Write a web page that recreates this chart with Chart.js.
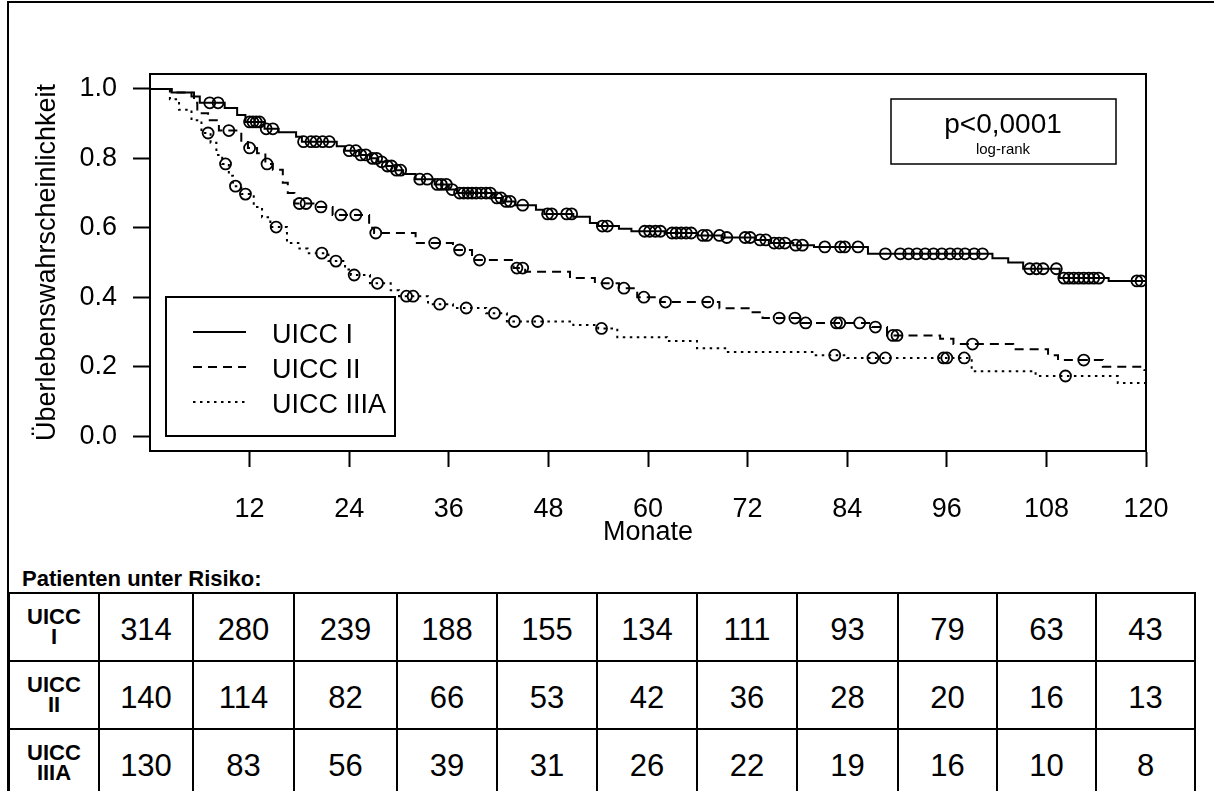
<!DOCTYPE html>
<html>
<head>
<meta charset="utf-8">
<script src="https://cdn.jsdelivr.net/npm/chart.js@4.4.1/dist/chart.umd.min.js"></script>
<style>
  body { margin: 0; background: #fff; font-family: "Liberation Sans", Arial, sans-serif; }
  #frame { position: absolute; left: 7px; top: 1px; width: 1210px; height: 795px; border-left: 2px solid #000; border-top: 2px solid #000; }
  #wrap { position: absolute; left: 0; top: 0; width: 1214px; height: 560px; }
  #caption { position: absolute; left: 22px; top: 566px; font-weight: bold; font-size: 22px; }
  table { position: absolute; left: 8px; top: 592px; border-collapse: collapse; table-layout: fixed; width: 1186px; }
  td { border: 2px solid #000; height: 61px; text-align: center; font-size: 31px; padding: 5px 0 0 0; }
  td.lab { font-weight: bold; font-size: 22px; line-height: 20px; padding: 0; }
</style>
</head>
<body>
<div id="frame"></div>
<div id="wrap"><canvas id="km"></canvas></div>
<div id="caption">Patienten unter Risiko:</div>
<table id="risk"></table>
<script>
// Kaplan-Meier: step times (months) and survival after each step
const groups = ['UICC I', 'UICC II', 'UICC IIIA'];
const groupLabels = ['UICC<br>I', 'UICC<br>II', 'UICC<br>IIIA'];

const timeI = [0, 2.6, 5.0, 6.0, 9.0, 10.5, 11.5, 13.8, 15.5, 17.6, 18.3, 22.5, 23.5, 25.2, 26.5, 27.5, 28.5, 29.5, 30.5, 32.0, 34.3, 36.0, 37.0, 41.5, 42.5, 44.0, 46.5, 47.5, 51.0, 53.0, 54.0, 56.5, 58.0, 62.0, 66.0, 69.0, 73.0, 74.8, 77.5, 80.0, 86.5, 101.5, 103.4, 105.2, 109.6, 115.5, 120];
const survI = [1.0, 0.99, 0.978, 0.96, 0.945, 0.925, 0.905, 0.885, 0.875, 0.862, 0.848, 0.835, 0.822, 0.81, 0.80, 0.79, 0.778, 0.766, 0.755, 0.74, 0.725, 0.71, 0.70, 0.686, 0.676, 0.665, 0.652, 0.64, 0.632, 0.614, 0.605, 0.597, 0.59, 0.585, 0.578, 0.572, 0.565, 0.556, 0.55, 0.545, 0.525, 0.512, 0.50, 0.482, 0.455, 0.447, 0.447];
const censTimeI = [7.2, 8.2, 12.0, 12.4, 12.8, 13.2, 14.0, 14.8, 18.5, 19.4, 20.0, 20.8, 21.6, 24.0, 24.8, 25.4, 26.0, 26.8, 27.3, 27.9, 28.6, 29.1, 29.7, 30.2, 32.5, 33.4, 34.6, 35.1, 35.7, 36.4, 37.3, 37.8, 38.3, 38.8, 39.3, 39.9, 40.5, 41.0, 41.8, 42.3, 42.9, 43.4, 44.9, 47.9, 48.4, 50.2, 50.8, 54.5, 55.1, 59.6, 60.2, 60.9, 61.5, 62.9, 63.4, 64.0, 64.6, 65.2, 66.6, 67.1, 68.6, 69.5, 71.7, 72.3, 73.5, 74.2, 75.2, 75.8, 76.5, 77.8, 78.6, 81.3, 83.2, 83.7, 85.3, 88.6, 90.4, 91.4, 92.4, 93.4, 94.4, 95.4, 96.4, 97.3, 98.2, 99.3, 100.3, 106.0, 106.8, 107.6, 109.2, 110.1, 110.7, 111.3, 111.9, 112.5, 113.1, 113.7, 114.3, 118.9, 119.4];
const censSurvI = [0.96, 0.96, 0.905, 0.905, 0.905, 0.905, 0.885, 0.885, 0.848, 0.848, 0.848, 0.848, 0.848, 0.822, 0.822, 0.81, 0.81, 0.80, 0.80, 0.79, 0.778, 0.778, 0.766, 0.766, 0.74, 0.74, 0.725, 0.725, 0.725, 0.71, 0.70, 0.70, 0.70, 0.70, 0.70, 0.70, 0.70, 0.70, 0.686, 0.686, 0.676, 0.676, 0.665, 0.64, 0.64, 0.64, 0.64, 0.605, 0.605, 0.59, 0.59, 0.59, 0.59, 0.585, 0.585, 0.585, 0.585, 0.585, 0.578, 0.578, 0.578, 0.572, 0.572, 0.572, 0.565, 0.565, 0.556, 0.556, 0.556, 0.55, 0.55, 0.545, 0.545, 0.545, 0.545, 0.525, 0.525, 0.525, 0.525, 0.525, 0.525, 0.525, 0.525, 0.525, 0.525, 0.525, 0.525, 0.482, 0.482, 0.482, 0.482, 0.455, 0.455, 0.455, 0.455, 0.455, 0.455, 0.455, 0.455, 0.447, 0.447];

const timeII = [0, 2.6, 5.3, 5.7, 7.0, 8.3, 11.0, 11.8, 12.9, 13.9, 14.8, 16.0, 16.6, 17.4, 20.0, 22.0, 26.4, 27.0, 32.0, 36.5, 38.8, 43.8, 45.2, 50.6, 53.6, 56.5, 58.7, 61.5, 68.6, 72.6, 73.8, 78.5, 87.0, 88.8, 95.2, 96.8, 104.0, 108.2, 109.4, 114.8, 119.8, 120];
const survII = [1.0, 0.99, 0.96, 0.93, 0.91, 0.88, 0.847, 0.83, 0.815, 0.784, 0.767, 0.73, 0.70, 0.67, 0.66, 0.637, 0.60, 0.585, 0.556, 0.536, 0.507, 0.484, 0.473, 0.455, 0.44, 0.426, 0.40, 0.386, 0.368, 0.357, 0.34, 0.326, 0.314, 0.29, 0.28, 0.265, 0.25, 0.233, 0.219, 0.20, 0.19, 0.19];
const censTimeII = [9.5, 12.0, 14.1, 18.0, 18.8, 20.6, 23.0, 24.8, 27.2, 34.3, 37.3, 39.7, 44.2, 44.9, 55.1, 57.1, 59.5, 62.1, 67.2, 75.8, 77.7, 79.0, 82.7, 83.1, 85.5, 87.4, 89.5, 90.0, 99.1, 112.5];
const censSurvII = [0.88, 0.83, 0.784, 0.67, 0.67, 0.66, 0.637, 0.637, 0.585, 0.556, 0.536, 0.507, 0.484, 0.484, 0.44, 0.426, 0.40, 0.386, 0.386, 0.34, 0.34, 0.326, 0.326, 0.326, 0.326, 0.314, 0.29, 0.29, 0.265, 0.219];

const timeIII = [0, 2.4, 3.5, 5.0, 6.2, 7.3, 8.0, 8.7, 9.5, 10.0, 11.0, 12.5, 13.5, 14.5, 16.5, 18.0, 19.0, 21.5, 23.5, 24.2, 26.5, 29.0, 30.0, 33.5, 36.5, 40.5, 43.0, 51.0, 54.0, 56.3, 62.3, 65.9, 69.5, 80.0, 84.0, 99.0, 106.7, 116.6, 120];
const survIII = [1.0, 0.97, 0.94, 0.91, 0.873, 0.845, 0.81, 0.784, 0.75, 0.72, 0.697, 0.66, 0.63, 0.602, 0.556, 0.54, 0.527, 0.504, 0.48, 0.464, 0.44, 0.42, 0.403, 0.38, 0.369, 0.354, 0.33, 0.32, 0.31, 0.285, 0.274, 0.253, 0.242, 0.233, 0.225, 0.187, 0.173, 0.153, 0.153];
const censTimeIII = [7.0, 9.1, 10.3, 11.5, 15.2, 20.7, 22.4, 24.6, 27.4, 30.9, 31.7, 34.9, 38.1, 41.5, 43.9, 46.7, 54.4, 82.5, 87.1, 88.6, 95.6, 96.0, 98.1, 110.3];
const censSurvIII = [0.873, 0.784, 0.72, 0.697, 0.602, 0.527, 0.504, 0.464, 0.44, 0.403, 0.403, 0.38, 0.369, 0.354, 0.33, 0.33, 0.31, 0.233, 0.225, 0.225, 0.225, 0.225, 0.225, 0.173];

const xTicks = [12, 24, 36, 48, 60, 72, 84, 96, 108, 120];
const yTicks = [0, 0.2, 0.4, 0.6, 0.8, 1.0];

// patients at risk at 0, 12, ..., 120 months
const riskI = [314, 280, 239, 188, 155, 134, 111, 93, 79, 63, 43];
const riskII = [140, 114, 82, 66, 53, 42, 36, 28, 20, 16, 13];
const riskIIIA = [130, 83, 56, 39, 31, 26, 22, 19, 16, 10, 8];
const colWidths = [90, 94, 101, 103, 100, 100, 100, 100, 101, 99, 99, 99];

const pText = 'p<0,0001';
const pSub = 'log-rank';

const dashes = [[], [9, 6], [2.5, 4.5]];
const FONT = '"Liberation Sans", Arial, sans-serif';

function pts(xs, ys) {
  return xs.map((x, i) => ({ x: x, y: ys[i] }));
}

function curve(label, xs, ys, dash) {
  return {
    label: label,
    data: pts(xs, ys),
    showLine: true,
    stepped: true,
    borderColor: '#000',
    borderWidth: 2,
    borderDash: dash,
    pointRadius: 0,
    fill: false,
  };
}

function censored(xs, ys) {
  return {
    label: 'censored',
    data: pts(xs, ys),
    showLine: false,
    pointStyle: 'circle',
    pointRadius: 5.5,
    pointBorderWidth: 1.8,
    pointBorderColor: '#000',
    pointBackgroundColor: 'rgba(0,0,0,0)',
  };
}

const boxes = {
  id: 'boxes',
  afterDraw(chart) {
    const ctx = chart.ctx;
    const a = chart.chartArea;
    ctx.save();
    ctx.strokeStyle = '#000';
    ctx.lineWidth = 2;
    ctx.strokeRect(a.left, a.top, a.right - a.left, a.bottom - a.top);

    // legend box
    const lx = a.left + 16, ly = 297, lw = 229, lh = 139;
    ctx.fillStyle = '#fff';
    ctx.fillRect(lx, ly, lw, lh);
    ctx.strokeRect(lx, ly, lw, lh);
    ctx.font = '27px ' + FONT;
    ctx.fillStyle = '#000';
    ctx.textBaseline = 'middle';
    ctx.textAlign = 'left';
    groups.forEach((g, i) => {
      const y = 332 + i * 35;
      ctx.setLineDash(dashes[i]);
      ctx.lineWidth = 2;
      ctx.beginPath();
      ctx.moveTo(lx + 27, y);
      ctx.lineTo(lx + 80, y);
      ctx.stroke();
      ctx.setLineDash([]);
      ctx.fillText(g, lx + 106, y + 4);
    });

    // p-value box
    ctx.lineWidth = 1.5;
    ctx.strokeRect(891, 99, 225, 65);
    ctx.textAlign = 'center';
    ctx.font = '28px ' + FONT;
    ctx.fillText(pText, 1003, 125);
    ctx.font = '15px ' + FONT;
    ctx.fillText(pSub, 1003, 150);
    ctx.restore();
  }
};

Chart.defaults.color = '#000';
Chart.defaults.font.family = FONT;

new Chart(document.getElementById('km'), {
  type: 'scatter',
  data: {
    datasets: [
      curve(groups[0], timeI, survI, dashes[0]),
      curve(groups[1], timeII, survII, dashes[1]),
      curve(groups[2], timeIII, survIII, dashes[2]),
      censored(censTimeI, censSurvI),
      censored(censTimeII, censSurvII),
      censored(censTimeIII, censSurvIII),
    ],
  },
  options: {
    responsive: true,
    maintainAspectRatio: false,
    devicePixelRatio: 1,
    animation: false,
    layout: { padding: { left: 0, top: 74, right: 68, bottom: 0 } },
    plugins: { legend: { display: false }, tooltip: { enabled: false } },
    scales: {
      x: {
        type: 'linear',
        min: 0,
        max: 120,
        afterFit: (s) => { s.height = 109; },
        afterBuildTicks: (s) => { s.ticks = xTicks.map((v) => ({ value: v })); },
        grid: { drawOnChartArea: false, drawTicks: true, tickLength: 16, tickColor: '#000', tickWidth: 2 },
        border: { display: true, color: '#000', width: 2 },
        ticks: { font: { size: 27 }, padding: 26, maxRotation: 0 },
        title: { display: true, text: 'Monate', font: { size: 27 }, padding: { top: 0, bottom: 11 } },
      },
      y: {
        type: 'linear',
        min: -0.043,
        max: 1.043,
        afterFit: (s) => { s.width = 150; },
        afterBuildTicks: (s) => { s.ticks = yTicks.map((v) => ({ value: v })); },
        grid: { drawOnChartArea: false, drawTicks: true, tickLength: 17, tickColor: '#000', tickWidth: 2 },
        border: { display: true, color: '#000', width: 2 },
        ticks: { font: { size: 27 }, padding: 16, callback: (v) => Number(v).toFixed(1) },
        title: { display: true, text: 'Überlebenswahrscheinlichkeit', font: { size: 27 }, padding: { top: 31, bottom: 0 } },
      },
    },
  },
  plugins: [boxes],
});

// risk table
const table = document.getElementById('risk');
const colgroup = document.createElement('colgroup');
colgroup.innerHTML = colWidths.map((w) => '<col style="width:' + w + 'px">').join('');
table.appendChild(colgroup);
[riskI, riskII, riskIIIA].forEach((row, i) => {
  const tr = document.createElement('tr');
  tr.innerHTML = '<td class="lab">' + groupLabels[i] + '</td>' + row.map((n) => '<td>' + n + '</td>').join('');
  table.appendChild(tr);
});
</script>
</body>
</html>
